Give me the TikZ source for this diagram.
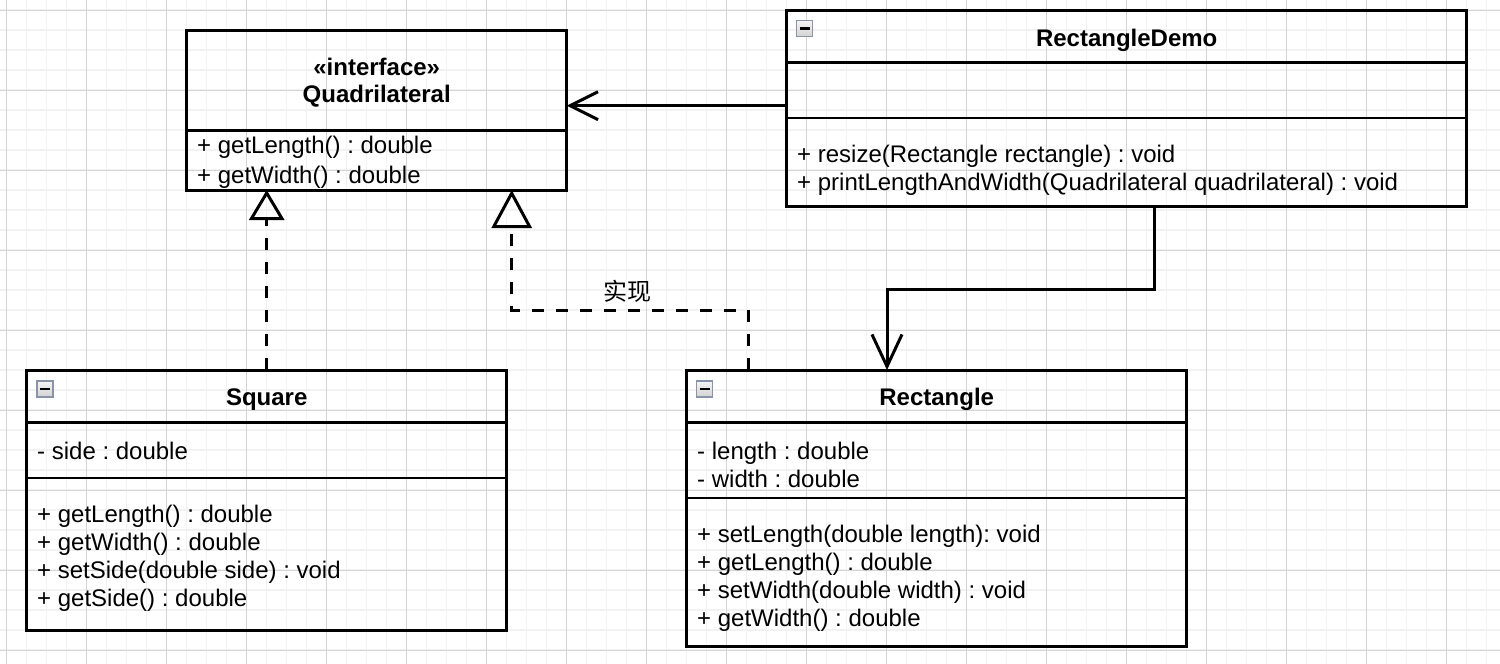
\documentclass[tikz,border=0pt]{standalone}
\usepackage{fontspec}
\setmainfont{Liberation Sans}
\newfontfamily\cjk{Noto Sans CJK SC}
\usetikzlibrary{arrows.meta}
\definecolor{gridminor}{RGB}{242,242,242}
\definecolor{gridmajor}{RGB}{212,212,212}
\definecolor{iconborder}{RGB}{138,148,168}
\frenchspacing
\begin{document}
\begin{tikzpicture}[x=1pt,y=-1pt,
  classbox/.style={draw=black, line width=3pt, inner sep=0pt, outer sep=0pt, anchor=north west},
  septhick/.style={line width=3pt},
  septhin/.style={line width=2pt},
  mtext/.style={anchor=base west, inner sep=0pt, font=\fontsize{24}{28}\selectfont},
  ctitle/.style={anchor=base, inner sep=0pt, font=\fontsize{24}{28}\selectfont\bfseries},
  icon/.style={draw=iconborder, line width=1.3pt, minimum size=16pt, inner sep=0pt, outer sep=0pt,
    top color=gray!8, bottom color=gray!35,
    path picture={\draw[black, line width=2.5pt] ([xshift=3pt]path picture bounding box.west) -- ([xshift=-3pt]path picture bounding box.east);}},
  realize/.style={line width=3pt, dash pattern=on 12pt off 12pt},
  assoc/.style={line width=3pt},
  lbl/.style={inner sep=0pt, font=\cjk\fontsize{24}{28}\selectfont}
]
\useasboundingbox (0,0) rectangle (1500,664);
\fill[white] (0,0) rectangle (1500,664);
% grid
\foreach \i in {0,...,74} \draw[gridminor, line width=1.5pt] ({6.7+20*\i},0) -- ({6.7+20*\i},664);
\foreach \j in {0,...,32} \draw[gridminor, line width=1.5pt] (0,{10+20*\j}) -- (1500,{10+20*\j});
\foreach \i in {0,...,18} \draw[gridmajor, line width=1pt] ({6.7+80*\i},0) -- ({6.7+80*\i},664);
\foreach \j in {0,...,8} \draw[gridmajor, line width=1pt] (0,{10+80*\j}) -- (1500,{10+80*\j});

% Quadrilateral
\node[classbox, minimum width=380pt, minimum height=160pt] (quad) at (186.7,30) {};
\draw[septhick] (quad.west |- 0,130) -- (quad.east |- 0,130);
\node[ctitle] (quad-s) at (376.7,75) {«interface»};
\node[ctitle] (quad-t) at (376.7,102) {Quadrilateral};
\node[mtext] (quad-m1) at (197,153.5) {+ getLength() : double};
\node[mtext] (quad-m2) at (197,183) {+ getWidth() : double};

% RectangleDemo
\node[classbox, minimum width=680pt, minimum height=196pt] (demo) at (786.7,10) {};
\draw[septhick] (demo.west |- 0,62) -- (demo.east |- 0,62);
\draw[septhin] (demo.west |- 0,118) -- (demo.east |- 0,118);
\node[icon] (demo-i) at (804.7,28.7) {};
\node[ctitle] (demo-t) at (1126.7,46) {RectangleDemo};
\node[mtext] (demo-m1) at (797,162) {+ resize(Rectangle rectangle) : void};
\node[mtext] (demo-m2) at (797,190) {+ printLengthAndWidth(Quadrilateral quadrilateral) : void};

% Square
\node[classbox, minimum width=480pt, minimum height=260pt] (sq) at (26.7,370) {};
\draw[septhick] (sq.west |- 0,422) -- (sq.east |- 0,422);
\draw[septhin] (sq.west |- 0,478) -- (sq.east |- 0,478);
\node[icon] (sq-i) at (45,389) {};
\node[ctitle] (sq-t) at (266.7,405) {Square};
\node[mtext] (sq-a1) at (37,459) {- side : double};
\node[mtext] (sq-m1) at (37,522) {+ getLength() : double};
\node[mtext] (sq-m2) at (37,550) {+ getWidth() : double};
\node[mtext] (sq-m3) at (37,578) {+ setSide(double side) : void};
\node[mtext] (sq-m4) at (37,606) {+ getSide() : double};

% Rectangle
\node[classbox, minimum width=500pt, minimum height=276pt] (rect) at (686.7,370) {};
\draw[septhick] (rect.west |- 0,422) -- (rect.east |- 0,422);
\draw[septhin] (rect.west |- 0,498) -- (rect.east |- 0,498);
\node[icon] (rect-i) at (704.5,389) {};
\node[ctitle] (rect-t) at (936.7,405.5) {Rectangle};
\node[mtext] (rect-a1) at (697,459) {- length : double};
\node[mtext] (rect-a2) at (697,487) {- width : double};
\node[mtext] (rect-m1) at (697,542) {+ setLength(double length): void};
\node[mtext] (rect-m2) at (697,570) {+ getLength() : double};
\node[mtext] (rect-m3) at (697,598) {+ setWidth(double width) : void};
\node[mtext] (rect-m4) at (697,626) {+ getWidth() : double};

% connectors
\draw[realize, -{Triangle[open, length=30pt, width=35pt]}] (sq.north) -- (quad.south -| sq.north);
\coordinate (bend1) at (748,310);
\draw[realize, -{Triangle[open, length=38pt, width=40pt]}]
  (rect.north -| bend1) -- (bend1) -| (quad.south -| 511.7,0);
\node[lbl] (impl) at (627,291) {实现};
\draw[assoc, -{Straight Barb[length=28pt,width=28pt]}] (demo.west |- 0,105.7) -- (quad.east |- 0,105.7);
\coordinate (bend2) at (1154,289);
\draw[assoc, -{Straight Barb[length=32pt,width=30pt]}]
  (demo.south -| bend2) -- (bend2) -| (rect.north -| 887,0);
\end{tikzpicture}
\end{document}
